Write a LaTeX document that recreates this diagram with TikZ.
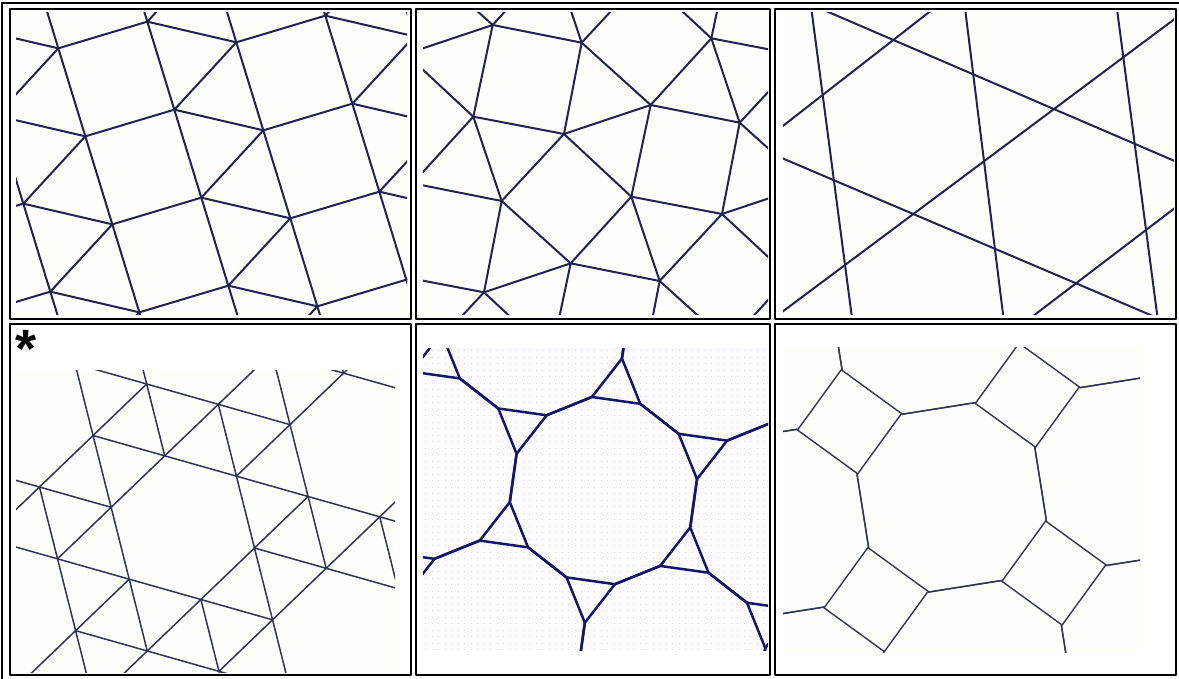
\documentclass[tikz,border=0pt]{standalone}
\usepackage{fontspec}
\newfontfamily\starfont{Liberation Sans}
\definecolor{lnA}{RGB}{34,34,82}
\definecolor{lnD}{RGB}{48,50,86}
\definecolor{lnE}{RGB}{22,22,105}
\definecolor{lnF}{RGB}{50,54,80}
\definecolor{bgImg}{RGB}{254,254,250}
\definecolor{bgDot}{RGB}{251,251,253}
\definecolor{dotC}{RGB}{222,222,234}
\begin{document}
\begin{tikzpicture}[x=1pt,y=-1pt,line join=round,line cap=round,
  cellbox/.style={draw=black,line width=2pt},
  tileA/.style={draw=lnA,line width=2pt},
  tileD/.style={draw=lnD,line width=1.5pt},
  tileE/.style={draw=lnE,line width=2.5pt},
  tileF/.style={draw=lnF,line width=1.4pt}]
\clip (0,0) rectangle (1179,679);
\fill[white] (0,0) rectangle (1179,679);

% ---------- panel 1 : snub square ----------
\begin{scope}
\clip (16,13) rectangle (407,315);
\fill[bgImg] (16,13) rectangle (407,315);
\foreach \j in {-1,...,4}{
 \foreach \k in {-2,...,3}{
  \pgfmathsetmacro\lx{58.33+178*\k+27*\j}
  \pgfmathsetmacro\ly{48.33-6*\k+88*\j}
  \draw[tileA] (\lx,\ly) -- ++(89,-26.67) -- ++(89,20.67);
  \draw[tileA] (\lx,\ly) -- ++(27,88);
  \draw[tileA] (\lx,\ly) ++(89,-26.67) -- ++(27,88);
  \draw[tileA] (\lx,\ly) -- ++(-62,67.33);
 }}
\end{scope}

% ---------- panel 2 : snub square (rotated) ----------
\begin{scope}
\clip (423,13) rectangle (768,315);
\fill[bgImg] (423,13) rectangle (768,315);
\foreach \m in {-3,...,3}{
 \foreach \n in {-3,...,3}{
  \pgfmathsetmacro\ox{158*\m-80*\n}
  \pgfmathsetmacro\oy{80*\m+158.33*\n}
  \begin{scope}[shift={(\ox,\oy)}]
   \draw[tileA] (492.67,25) -- (581.67,42.67) -- (564,134) -- (473.33,116.67) -- cycle;
   \draw[tileA] (581.67,42.67) -- (650.67,105);
   \draw[tileA] (564,134) -- (650.67,105);
   \draw[tileA] (564,134) -- (631.33,196.67);
   \draw[tileA] (564,134) -- (501.67,201);
   \draw[tileA] (473.33,116.67) -- (501.67,201);
   \draw[tileA] (473.33,116.67) -- (412.67,183.33);
  \end{scope}
 }}
\end{scope}

% ---------- panel 3 : trihexagonal ----------
\begin{scope}
\clip (783,13) rectangle (1174,315);
\fill[bgImg] (783,13) rectangle (1174,315);
\draw[tileA] (810.2,0) -- (854.0,333.3);
\draw[tileA] (964,0) -- (1005.4,333.3);
\draw[tileA] (1115.8,0) -- (1159.6,333.3);
\draw[tileA] (770,-13.1) -- (1180,163.3);
\draw[tileA] (770,153) -- (1180,327.6);
\draw[tileA] (770,136) -- (970,-19.7);
\draw[tileA] (770,321) -- (1180,15);
\draw[tileA] (1003.3,338.7) -- (1180,204.1);
\end{scope}

% ---------- panel 4 : snub hexagonal ----------
\node[anchor=north,inner sep=0pt,font=\starfont\bfseries\fontsize{54}{54}\selectfont] (star) at (26,330) {*};
\begin{scope}
\clip (16,370) rectangle (395,672);
\fill[bgImg] (16,370) rectangle (395,672);
\foreach \p in {-5,...,5}{
 \foreach \q in {-3,...,6}{
  \pgfmathtruncatemacro\cA{mod(2*\p+3*\q+64,7)}
  \ifnum\cA>0
   \pgfmathtruncatemacro\cB{mod(2*\p+3*\q+66,7)}
   \pgfmathtruncatemacro\cC{mod(2*\p+3*\q+67,7)}
   \pgfmathtruncatemacro\cD{mod(2*\p+3*\q+63,7)}
   \pgfmathsetmacro\vx{146.67+71.67*\p+18.07*\q}
   \pgfmathsetmacro\vy{384+20.33*\p+71.83*\q}
   \ifnum\cB>0 \draw[tileD] (\vx,\vy) -- ++(71.67,20.33); \fi
   \ifnum\cC>0 \draw[tileD] (\vx,\vy) -- ++(18.07,71.83); \fi
   \ifnum\cD>0 \draw[tileD] (\vx,\vy) -- ++(53.6,-51.5); \fi
  \fi
 }}
\end{scope}

% ---------- panel 5 : truncated hexagonal ----------
\begin{scope}
\clip (423,348) rectangle (768,650);
\fill[bgDot] (423,348) rectangle (768,650);
\foreach \dy in {350,356.5,...,650}{
 \foreach \dx in {425,431.5,...,768}{
  \fill[dotC] (\dx,\dy) rectangle ++(1.3,1.3);
 }}
\foreach \i in {-2,...,2}{
 \foreach \j in {-2,...,2}{
  \pgfmathsetmacro\cx{603.4+182.2*(\i*cos(52)+\j*cos(112))}
  \pgfmathsetmacro\cy{490.6-182.2*(\i*sin(52)+\j*sin(112))}
  \draw[tileE,shift={(\cx,\cy)}] (23:94.3) -- (53:94.3) -- (83:94.3) -- (113:94.3) -- (143:94.3) -- (173:94.3) -- (203:94.3) -- (233:94.3) -- (263:94.3) -- (293:94.3) -- (323:94.3) -- (353:94.3) -- cycle;
 }}
\end{scope}

% ---------- panel 6 : truncated square ----------
\begin{scope}
\clip (783,347) rectangle (1140,652);
\fill[bgImg] (783,347) rectangle (1140,652);
\foreach \i in {-2,...,2}{
 \foreach \j in {-2,...,2}{
  \pgfmathsetmacro\cx{951.7+179.8*(\i*cos(8.5)+\j*cos(98.5))}
  \pgfmathsetmacro\cy{497.4-179.8*(\i*sin(8.5)+\j*sin(98.5))}
  \draw[tileF,shift={(\cx,\cy)}] (13.5:97.3) -- (58.5:97.3) -- (103.5:97.3) -- (148.5:97.3) -- (193.5:97.3) -- (238.5:97.3) -- (283.5:97.3) -- (328.5:97.3) -- cycle;
 }}
\end{scope}

% ---------- frames ----------
\draw[line width=2pt] (2,3) rectangle (1195,695);
\draw[cellbox] (10,9.5) rectangle (411,319);
\draw[cellbox] (416,9.5) rectangle (769.5,319);
\draw[cellbox] (775,9.5) rectangle (1176,319);
\draw[cellbox] (10,324) rectangle (411,675);
\draw[cellbox] (416,324) rectangle (769.5,675);
\draw[cellbox] (775,324) rectangle (1176,675);
\end{tikzpicture}
\end{document}
